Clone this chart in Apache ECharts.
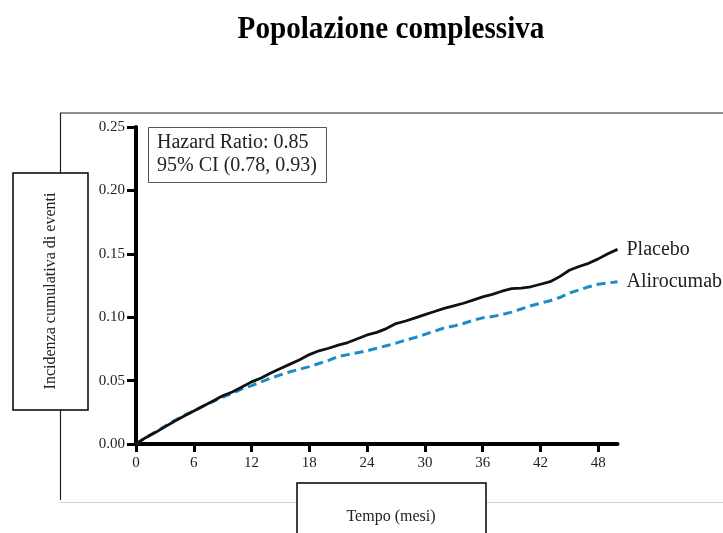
<!DOCTYPE html>
<html>
<head>
<meta charset="utf-8">
<script src="https://cdn.jsdelivr.net/npm/echarts@6/dist/echarts.min.js"></script>
<style>html,body{margin:0;padding:0;background:#fff}#chart{width:723px;height:533px}</style>
</head>
<body>
<div id="chart"></div>
<script>
const titleText = 'Popolazione complessiva';
const yAxisTitle = 'Incidenza cumulativa di eventi';
const xAxisTitle = 'Tempo (mesi)';
const hrLines = ['Hazard Ratio: 0.85', '95% CI (0.78, 0.93)'];
const xTicks = [0, 6, 12, 18, 24, 30, 36, 42, 48];
const months = [0,1,2,3,4,5,6,7,8,9,10,11,12,13,14,15,16,17,18,19,20,21,22,23,24,25,26,27,28,29,30,31,32,33,34,35,36,37,38,39,40,41,42,43,44,45,46,47,48,49,50];
const placebo = [0,0.005,0.009,0.0135,0.018,0.022,0.026,0.030,0.034,0.038,0.041,0.045,0.049,0.052,0.056,0.0595,0.063,0.0665,0.0705,0.0735,0.0755,0.078,0.080,0.083,0.086,0.088,0.091,0.095,0.097,0.0995,0.102,0.1045,0.107,0.109,0.111,0.1135,0.116,0.118,0.1205,0.1225,0.123,0.124,0.126,0.128,0.132,0.137,0.140,0.1425,0.146,0.150,0.1535];
const alirocumab = [0,0.005,0.0095,0.014,0.0185,0.0225,0.026,0.030,0.0335,0.037,0.040,0.0435,0.046,0.049,0.052,0.0545,0.057,0.059,0.061,0.0635,0.066,0.069,0.0705,0.072,0.0735,0.0755,0.0775,0.0795,0.082,0.084,0.0865,0.089,0.0915,0.093,0.095,0.0975,0.0995,0.1005,0.102,0.104,0.1065,0.109,0.111,0.113,0.1155,0.119,0.1215,0.124,0.126,0.127,0.128];

const serif = '"Liberation Serif", "DejaVu Serif", serif';
const txt = '#222';
const chart = echarts.init(document.getElementById('chart'), null, {renderer: 'canvas'});
const pair = a => months.map((m, i) => [m, a[i]]);

chart.setOption({
  animation: false,
  backgroundColor: '#fff',
  grid: {left: 136, top: 127, right: 105.5, bottom: 89, containLabel: false},
  xAxis: {
    type: 'value', min: 0, max: 50, interval: 6,
    axisLine: {show: true, onZero: false, lineStyle: {color: '#000', width: 4}},
    axisTick: {show: true, length: 8, lineStyle: {color: '#000', width: 3}, customValues: xTicks},
    axisLabel: {customValues: xTicks, color: txt, fontFamily: serif, fontSize: 15, margin: 12},
    splitLine: {show: false}
  },
  yAxis: {
    type: 'value', min: 0, max: 0.25, interval: 0.05,
    axisLine: {show: true, lineStyle: {color: '#000', width: 4}},
    axisTick: {show: true, length: 9, lineStyle: {color: '#000', width: 3}},
    axisLabel: {color: txt, fontFamily: serif, fontSize: 15, margin: 11, formatter: v => v.toFixed(2)},
    splitLine: {show: false}
  },
  series: [
    {
      name: 'Placebo', type: 'line', data: pair(placebo), showSymbol: false, symbol: 'none',
      lineStyle: {color: '#111', width: 2.8}, z: 3,
      endLabel: {show: true, formatter: '{a}', distance: 9, color: txt, fontFamily: serif, fontSize: 20}
    },
    {
      name: 'Alirocumab', type: 'line', data: pair(alirocumab), showSymbol: false, symbol: 'none',
      lineStyle: {color: '#1d8cc6', width: 3, type: [9, 5]}, z: 2,
      endLabel: {show: true, formatter: '{a}', distance: 9, color: txt, fontFamily: serif, fontSize: 20}
    }
  ],
  graphic: [
    {type: 'text', x: 391, y: 30, scaleX: 0.94, style: {text: titleText, font: 'bold 31px ' + serif, fill: '#000', textAlign: 'center', textVerticalAlign: 'middle'}},
    {type: 'line', shape: {x1: 60, y1: 113, x2: 723, y2: 113}, style: {stroke: '#222', lineWidth: 1.2}, z: 0},
    {type: 'line', shape: {x1: 60.5, y1: 113, x2: 60.5, y2: 500}, style: {stroke: '#222', lineWidth: 1.2}, z: 0},
    {type: 'line', shape: {x1: 60, y1: 502.5, x2: 723, y2: 502.5}, style: {stroke: '#d0d0d0', lineWidth: 1}, z: 0},
    {type: 'rect', shape: {x: 13, y: 173, width: 75, height: 237}, style: {fill: '#fff', stroke: '#000', lineWidth: 1.5}, z: 5},
    {type: 'text', x: 51, y: 291, rotation: Math.PI / 2, style: {text: yAxisTitle, font: '16px ' + serif, fill: txt, textAlign: 'center', textVerticalAlign: 'middle'}, z: 6},
    {type: 'rect', shape: {x: 297, y: 483, width: 189, height: 70}, style: {fill: '#fff', stroke: '#000', lineWidth: 1.5}, z: 5},
    {type: 'text', x: 391, y: 517, style: {text: xAxisTitle, font: '16px ' + serif, fill: txt, textAlign: 'center', textVerticalAlign: 'middle'}, z: 6},
    {type: 'rect', shape: {x: 148.5, y: 127.5, width: 178, height: 55}, style: {fill: '#fff', stroke: '#555', lineWidth: 1}, z: 5},
    {type: 'text', x: 157, y: 143, style: {text: hrLines[0], font: '20px ' + serif, fill: txt, textVerticalAlign: 'middle'}, z: 6},
    {type: 'text', x: 157, y: 166, style: {text: hrLines[1], font: '20px ' + serif, fill: txt, textVerticalAlign: 'middle'}, z: 6}
  ]
});
</script>
</body>
</html>
